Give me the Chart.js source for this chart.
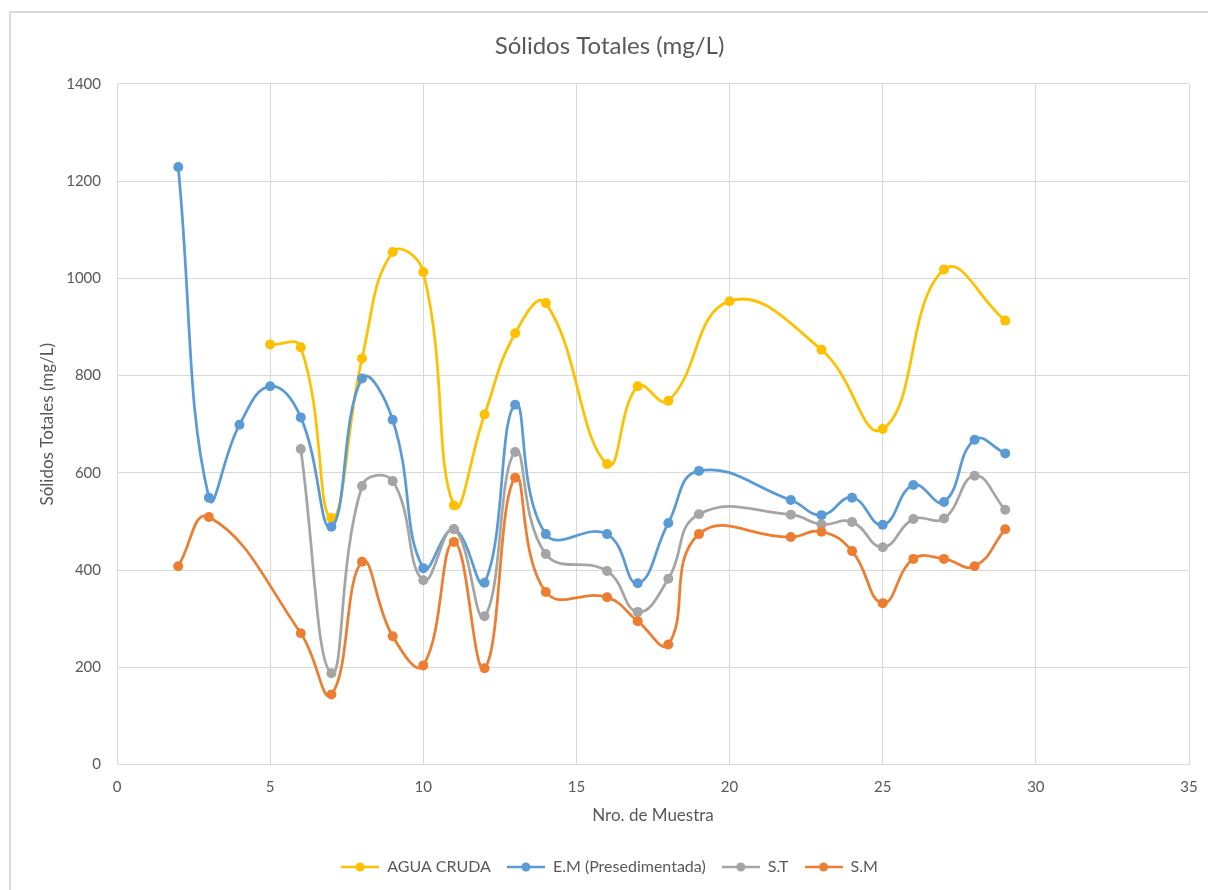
<!DOCTYPE html>
<html>
<head>
<meta charset="utf-8">
<script src="https://cdn.jsdelivr.net/npm/chart.js@4.4.1/dist/chart.umd.min.js"></script>
<style>
  html, body { margin: 0; padding: 0; background: #ffffff; }
  #wrap { position: relative; width: 1208px; height: 890px; }
</style>
</head>
<body>
<div id="wrap"><canvas id="chart" width="1208" height="890"></canvas></div>
<script>
// Sample numbers (Nro. de Muestra) for each series
const xAguaCruda = [5, 6, 7, 8, 9, 10, 11, 12, 13, 14, 16, 17, 18, 20, 23, 25, 27, 29];
const yAguaCruda = [864, 858, 507, 835, 1054, 1013, 533, 720, 887, 949, 618, 778, 748, 953, 853, 690, 1018, 913];

const xEM = [2, 3, 4, 5, 6, 7, 8, 9, 10, 11, 12, 13, 14, 16, 17, 18, 19, 22, 23, 24, 25, 26, 27, 28, 29];
const yEM = [1229, 549, 699, 778, 714, 489, 794, 709, 404, 484, 374, 740, 474, 474, 373, 497, 604, 544, 513, 549, 493, 575, 540, 668, 640];

const xST = [6, 7, 8, 9, 10, 11, 12, 13, 14, 16, 17, 18, 19, 22, 23, 24, 25, 26, 27, 28, 29];
const yST = [649, 188, 573, 583, 379, 484, 305, 643, 433, 398, 314, 382, 515, 514, 494, 499, 447, 505, 506, 594, 524];

const xSM = [2, 3, 6, 7, 8, 9, 10, 11, 12, 13, 14, 16, 17, 18, 19, 22, 23, 24, 25, 26, 27, 28, 29];
const ySM = [408, 509, 270, 144, 417, 264, 204, 458, 198, 590, 355, 344, 295, 247, 474, 468, 479, 439, 332, 423, 423, 408, 484];

const seriesNames = ['AGUA CRUDA', 'E.M (Presedimentada)', 'S.T', 'S.M'];
const seriesColors = ['#FFC000', '#5B9BD5', '#A5A5A5', '#ED7D31'];

const FONT = 'Lato, "Open Sans", sans-serif';
const TEXT = '#595959';

function toPoints(xs, ys) {
  return xs.map((x, i) => ({ x: x, y: ys[i] }));
}

// Legend marker: short line with a dot in the middle
function legendMarker(color) {
  const c = document.createElement('canvas');
  c.width = 38; c.height = 12;
  const g = c.getContext('2d');
  g.strokeStyle = color;
  g.lineWidth = 2.5;
  g.beginPath(); g.moveTo(0, 6); g.lineTo(38, 6); g.stroke();
  g.fillStyle = color;
  g.beginPath(); g.arc(19, 6, 4.5, 0, Math.PI * 2); g.fill();
  return c;
}
const markers = seriesColors.map(legendMarker);

// White background and the chart frame (top and left edges)
const frame = {
  id: 'frame',
  beforeDraw(chart) {
    const ctx = chart.ctx;
    ctx.save();
    ctx.fillStyle = '#ffffff';
    ctx.fillRect(0, 0, chart.width, chart.height);
    ctx.strokeStyle = '#d9d9d9';
    ctx.lineWidth = 2;
    ctx.beginPath();
    ctx.moveTo(10, chart.height + 5);
    ctx.lineTo(10, 12);
    ctx.lineTo(chart.width + 5, 12);
    ctx.stroke();
    ctx.restore();
  }
};

const sets = [
  [xAguaCruda, yAguaCruda],
  [xEM, yEM],
  [xST, yST],
  [xSM, ySM]
];

const datasets = sets.map((s, i) => ({
  label: seriesNames[i],
  data: toPoints(s[0], s[1]),
  borderColor: seriesColors[i],
  backgroundColor: seriesColors[i],
  borderWidth: 2.75,
  pointRadius: 5,
  pointHoverRadius: 5,
  pointBorderWidth: 0,
  tension: 0.45,
  fill: false,
  order: 4 - i
}));

new Chart(document.getElementById('chart'), {
  type: 'line',
  data: { datasets: datasets },
  plugins: [frame],
  options: {
    responsive: false,
    animation: false,
    layout: { padding: { left: 30, right: 19, top: 20, bottom: 5 } },
    plugins: {
      title: {
        display: true,
        text: 'Sólidos Totales (mg/L)',
        color: TEXT,
        font: { family: FONT, size: 24, weight: 'normal' },
        padding: { top: 12, bottom: 23 }
      },
      legend: {
        position: 'bottom',
        labels: {
          color: TEXT,
          font: { family: FONT, size: 16 },
          usePointStyle: true,
          pointStyleWidth: 38,
          padding: 16,
          generateLabels(chart) {
            return chart.data.datasets.map((d, i) => ({
              text: d.label,
              fillStyle: d.borderColor,
              strokeStyle: d.borderColor,
              lineWidth: 0,
              pointStyle: markers[i],
              fontColor: TEXT,
              hidden: false,
              datasetIndex: i
            }));
          }
        }
      },
      tooltip: { enabled: false }
    },
    scales: {
      x: {
        type: 'linear',
        min: 0,
        max: 35,
        ticks: { stepSize: 5, color: TEXT, font: { family: FONT, size: 15 }, padding: 14 },
        grid: { color: '#d9d9d9', drawTicks: false },
        border: { color: '#d9d9d9' },
        title: {
          display: true,
          text: 'Nro. de Muestra',
          color: TEXT,
          font: { family: FONT, size: 17 },
          padding: { top: -5, bottom: 17 }
        },
        afterFit(scale) { scale.paddingRight = 0; }
      },
      y: {
        min: 0,
        max: 1400,
        ticks: {
          stepSize: 200,
          color: TEXT,
          font: { family: FONT, size: 15 },
          padding: 16,
          callback: (v) => String(v)
        },
        grid: { color: '#d9d9d9', drawTicks: false },
        border: { color: '#d9d9d9' },
        title: {
          display: true,
          text: 'Sólidos Totales (mg/L)',
          color: TEXT,
          font: { family: FONT, size: 17 },
          padding: { top: 7, bottom: 10 }
        },
        afterFit(scale) { scale.width = 87; }
      }
    }
  }
});
</script>
</body>
</html>
